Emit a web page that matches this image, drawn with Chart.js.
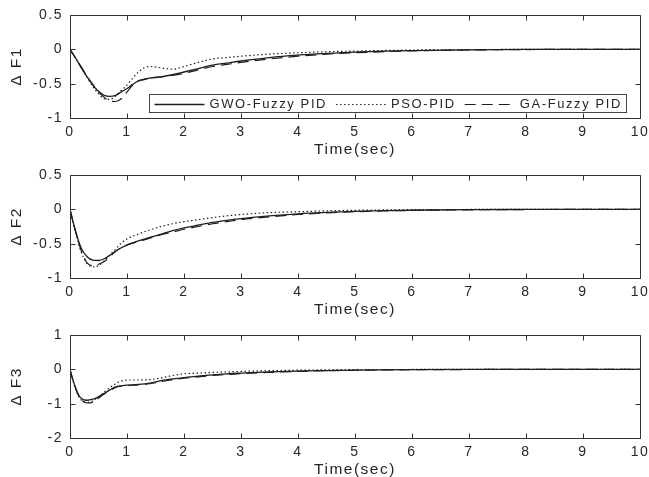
<!DOCTYPE html>
<html>
<head>
<meta charset="utf-8">
<script src="https://cdn.jsdelivr.net/npm/chart.js@4.4.1/dist/chart.umd.min.js"></script>
<style>
  html, body { margin:0; padding:0; background:#fff; width:649px; height:477px; overflow:hidden; }
  .panel { position:absolute; left:0; width:649px; height:160px; }
  canvas { display:block; }
</style>
</head>
<body>
<div class="panel" style="top:0px"><canvas id="c1" width="649" height="160"></canvas></div>
<div class="panel" style="top:160px"><canvas id="c2" width="649" height="160"></canvas></div>
<div class="panel" style="top:320px"><canvas id="c3" width="649" height="160"></canvas></div>
<script>
// ---------- data ----------
const seriesNames = ['GWO-Fuzzy PID', 'PSO-PID', 'GA-Fuzzy PID'];
const panelLabels = ['\u0394 F1', '\u0394 F2', '\u0394 F3'];
const xTitle = 'Time(sec)';

const timeP1 = [0,0.1,0.2,0.3,0.4,0.5,0.6,0.7,0.8,0.9,1.0,1.1,1.2,1.3,1.4,1.6,1.8,2.0,2.25,2.5,2.75,3,3.5,4,4.5,5,5.5,6,7,8,9,10];
const gwoF1 = [0,-0.13,-0.27,-0.40,-0.52,-0.61,-0.67,-0.685,-0.67,-0.62,-0.57,-0.51,-0.46,-0.435,-0.42,-0.40,-0.37,-0.33,-0.28,-0.23,-0.20,-0.17,-0.12,-0.085,-0.06,-0.04,-0.028,-0.018,-0.007,-0.002,0,0];
const psoF1 = [0,-0.13,-0.27,-0.41,-0.54,-0.65,-0.72,-0.73,-0.68,-0.60,-0.52,-0.42,-0.33,-0.27,-0.25,-0.27,-0.29,-0.25,-0.19,-0.14,-0.12,-0.10,-0.07,-0.05,-0.035,-0.025,-0.017,-0.01,-0.004,-0.001,0,0];
const gaF1  = [0,-0.13,-0.26,-0.39,-0.51,-0.62,-0.70,-0.75,-0.76,-0.72,-0.62,-0.52,-0.46,-0.44,-0.42,-0.40,-0.38,-0.35,-0.30,-0.25,-0.22,-0.19,-0.14,-0.10,-0.07,-0.05,-0.035,-0.022,-0.009,-0.003,0,0];

const timeP23 = [0,0.05,0.1,0.15,0.2,0.3,0.4,0.5,0.6,0.7,0.8,0.9,1.0,1.2,1.4,1.6,1.8,2.0,2.25,2.5,2.75,3,3.5,4,4.5,5,5.5,6,7,8,9,10];
const gwoF2 = [0,-0.17,-0.32,-0.46,-0.57,-0.69,-0.74,-0.745,-0.72,-0.67,-0.61,-0.56,-0.52,-0.46,-0.41,-0.36,-0.31,-0.27,-0.23,-0.19,-0.16,-0.135,-0.095,-0.065,-0.045,-0.03,-0.02,-0.013,-0.005,-0.002,0,0];
const psoF2 = [0,-0.18,-0.34,-0.50,-0.63,-0.79,-0.84,-0.82,-0.75,-0.66,-0.58,-0.49,-0.43,-0.36,-0.30,-0.25,-0.21,-0.18,-0.15,-0.12,-0.095,-0.075,-0.048,-0.035,-0.022,-0.014,-0.009,-0.005,-0.002,0,0,0];
const gaF2  = [0,-0.17,-0.33,-0.48,-0.61,-0.78,-0.82,-0.80,-0.76,-0.69,-0.61,-0.56,-0.52,-0.47,-0.42,-0.37,-0.33,-0.29,-0.25,-0.21,-0.18,-0.15,-0.11,-0.075,-0.052,-0.035,-0.024,-0.016,-0.007,-0.003,-0.001,0];

const gwoF3 = [0,-0.30,-0.55,-0.74,-0.85,-0.90,-0.87,-0.80,-0.70,-0.60,-0.51,-0.48,-0.46,-0.44,-0.40,-0.33,-0.28,-0.24,-0.20,-0.16,-0.13,-0.11,-0.075,-0.05,-0.035,-0.023,-0.015,-0.01,-0.004,-0.001,0,0];
const psoF3 = [0,-0.32,-0.58,-0.78,-0.90,-0.96,-0.92,-0.80,-0.66,-0.53,-0.42,-0.34,-0.31,-0.31,-0.30,-0.25,-0.18,-0.13,-0.11,-0.09,-0.075,-0.06,-0.04,-0.025,-0.016,-0.01,-0.006,-0.004,-0.001,0,0,0];
const gaF3  = [0,-0.30,-0.56,-0.76,-0.89,-0.98,-0.96,-0.84,-0.72,-0.62,-0.53,-0.49,-0.47,-0.45,-0.42,-0.36,-0.30,-0.26,-0.22,-0.18,-0.15,-0.125,-0.09,-0.06,-0.04,-0.027,-0.018,-0.012,-0.005,-0.002,-0.001,0];

const yRanges = [[-1, 0.5, 0.5], [-1, 0.5, 0.5], [-2, 1, 1]];

// ---------- styling ----------
const FONT = "'Liberation Sans', Arial, Helvetica, sans-serif";
const INK = '#262626';
const LINE = '#1e1e1e';
const LETTER = '1.5px';
const dashes = [[], [1.5, 2.5], [11, 6]];
const widths = [1.3, 1.2, 1.2];

const spacingPlugin = {
  id: 'spacing',
  beforeLayout(chart) { chart.ctx.letterSpacing = LETTER; },
  beforeDraw(chart) { chart.ctx.letterSpacing = LETTER; }
};

const framePlugin = {
  id: 'frame',
  afterDraw(chart) {
    const ctx = chart.ctx;
    const {left, right, top, bottom} = chart.chartArea;
    const L = Math.round(left) + 0.5, R = Math.round(right) + 0.5;
    const T = Math.round(top) + 0.5, B = Math.round(bottom) + 0.5;
    const tl = 5;
    ctx.save();
    ctx.strokeStyle = '#333';
    ctx.lineWidth = 1;
    ctx.beginPath();
    ctx.rect(L, T, R - L, B - T);
    const xs = chart.scales.x, ys = chart.scales.y;
    xs.ticks.forEach(t => {
      const p = Math.round(xs.getPixelForValue(t.value)) + 0.5;
      ctx.moveTo(p, B); ctx.lineTo(p, B - tl);
      ctx.moveTo(p, T); ctx.lineTo(p, T + tl);
    });
    ys.ticks.forEach(t => {
      const p = Math.round(ys.getPixelForValue(t.value)) + 0.5;
      ctx.moveTo(L, p); ctx.lineTo(L + tl, p);
      ctx.moveTo(R, p); ctx.lineTo(R - tl, p);
    });
    ctx.stroke();
    ctx.restore();
  }
};

const legendBoxPlugin = {
  id: 'legendBox',
  afterDatasetsDraw(chart, args, opts) {
    if (!opts.show) return;
    const ctx = chart.ctx;
    const area = chart.chartArea;
    ctx.save();
    ctx.letterSpacing = '1.6px';
    ctx.font = '13px ' + FONT;
    const sample = 50, gapA = 5, gapB = 9, padL = 5, padR = 5;
    const ds = chart.data.datasets;
    const tw = ds.map(d => ctx.measureText(d.label).width);
    let total = padL + padR;
    tw.forEach((w, i) => { total += sample + gapA + w + (i < tw.length - 1 ? gapB : 0); });
    const h = 18;
    const right = Math.round(area.right - 14) + 0.5;
    const bottom = Math.round(area.bottom - 6) + 0.5;
    const left = right - Math.round(total);
    const top = bottom - h;
    ctx.fillStyle = '#fff';
    ctx.fillRect(left, top, right - left, h);
    ctx.strokeStyle = '#444';
    ctx.lineWidth = 1;
    ctx.strokeRect(left, top, right - left, h);
    const cy = top + h / 2;
    let x = left + padL;
    ds.forEach((d, i) => {
      ctx.beginPath();
      ctx.setLineDash(d.borderDash || []);
      ctx.strokeStyle = d.borderColor;
      ctx.lineWidth = d.borderWidth;
      ctx.moveTo(x, Math.round(cy) + 0.5);
      ctx.lineTo(x + sample, Math.round(cy) + 0.5);
      ctx.stroke();
      ctx.setLineDash([]);
      x += sample + gapA;
      ctx.fillStyle = INK;
      ctx.textBaseline = 'middle';
      ctx.textAlign = 'left';
      ctx.fillText(d.label, x, cy + 0.5);
      x += tw[i] + gapB;
    });
    ctx.restore();
  }
};

function pts(t, v) { return t.map((x, i) => ({x: x, y: v[i]})); }

function makePanel(id, t, series, range, yLabel, showLegend) {
  const datasets = series.map((v, i) => ({
    label: seriesNames[i],
    data: pts(t, v),
    borderColor: LINE,
    borderWidth: widths[i],
    borderDash: dashes[i],
    pointRadius: 0,
    fill: false,
    cubicInterpolationMode: 'monotone'
  }));
  return new Chart(document.getElementById(id), {
    type: 'line',
    data: { datasets },
    plugins: [spacingPlugin, framePlugin, legendBoxPlugin],
    options: {
      responsive: false,
      animation: false,
      devicePixelRatio: 1,
      layout: { padding: { top: 15, right: 9, bottom: 0, left: 0 } },
      plugins: {
        legend: { display: false },
        tooltip: { enabled: false },
        legendBox: { show: showLegend }
      },
      scales: {
        x: {
          type: 'linear', min: 0, max: 10,
          grid: { display: false, drawTicks: false },
          border: { display: false },
          ticks: { stepSize: 1, color: INK, padding: 6, maxRotation: 0,
                   font: { family: FONT, size: 14 } },
          title: { display: true, text: xTitle, color: INK,
                   font: { family: FONT, size: 15.5 }, padding: { top: 0, bottom: 1 } },
          afterFit(s) { s.height = 42; s.paddingLeft = 0; s.paddingRight = 0; }
        },
        y: {
          type: 'linear', min: range[0], max: range[1],
          grid: { display: false, drawTicks: false },
          border: { display: false },
          ticks: { stepSize: range[2], color: INK, padding: 7,
                   font: { family: FONT, size: 14 },
                   callback: v => String(v) },
          title: { display: true, text: yLabel, color: INK,
                   font: { family: FONT, size: 15.5 }, padding: { top: 7, bottom: 0 } },
          afterFit(s) { s.width = 70; s.paddingTop = 0; s.paddingBottom = 0; }
        }
      }
    }
  });
}

makePanel('c1', timeP1, [gwoF1, psoF1, gaF1], yRanges[0], panelLabels[0], true);
makePanel('c2', timeP23, [gwoF2, psoF2, gaF2], yRanges[1], panelLabels[1], false);
makePanel('c3', timeP23, [gwoF3, psoF3, gaF3], yRanges[2], panelLabels[2], false);
</script>
</body>
</html>
